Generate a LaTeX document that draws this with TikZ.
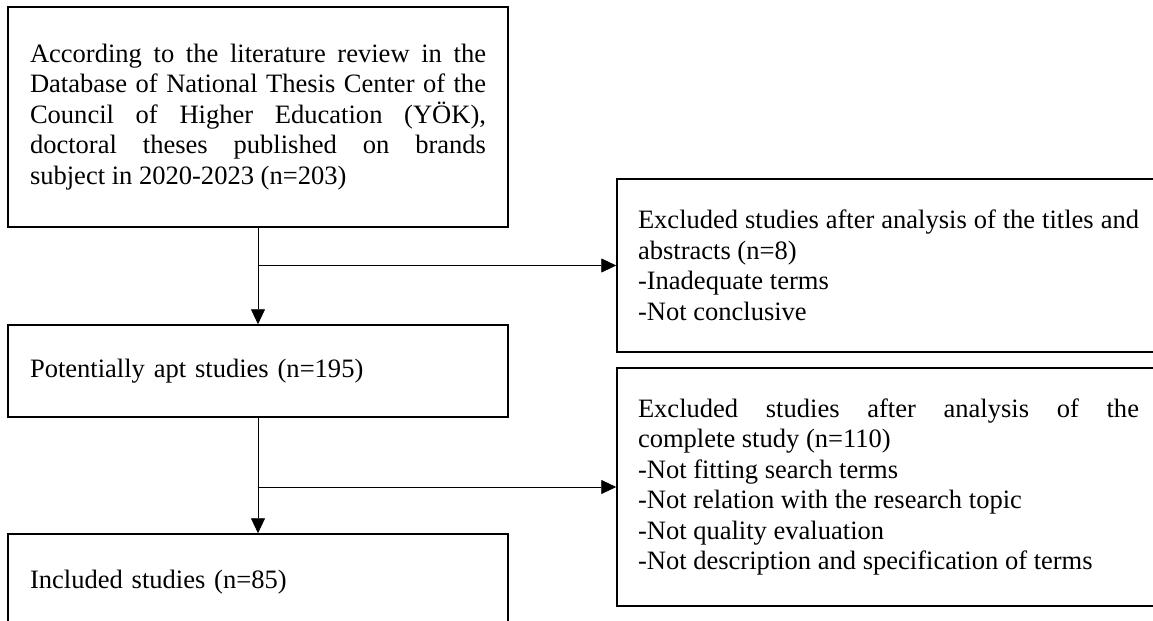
\documentclass[tikz,border=0pt]{standalone}
\usepackage{fontspec}
\setmainfont{Liberation Serif}
\usetikzlibrary{arrows.meta}
\newcommand{\flowfont}{\fontsize{15.1}{17.4}\selectfont
  \hyphenpenalty=10000 \exhyphenpenalty=10000 \tolerance=10000 \hbadness=10000 }
\tikzset{
  flowbox/.style={draw,line width=0.85pt,text width=9.12cm,inner xsep=0.44cm,inner ysep=0pt,
    font=\flowfont},
  exbox/.style={flowbox,text width=10.02cm,inner xsep=0.42cm},
  flowarrow/.style={line width=0.45pt,-{Triangle[length=0.3cm,width=0.28cm]}}
}

\begin{document}
\begin{tikzpicture}
    \useasboundingbox (0,0) rectangle (23.06,-12.42);
    \node[flowbox,align=justify,minimum height=4.4cm] (search) at (5.16,-2.34)
      {According to the literature review in the\linebreak
       Database of National Thesis Center of the\linebreak
       Council of Higher Education (YÖK),\linebreak
       doctoral theses published on brands\linebreak
       subject in 2020-2023 (n=203)};
    \node[flowbox,align=left,minimum height=1.84cm] (apt) at (5.16,-7.42)
      {Potentially apt studies (n=195)};
    \node[flowbox,align=left,minimum height=1.92cm] (incl) at (5.16,-11.64)
      {Included studies (n=85)};
    \node[exbox,align=justify,minimum height=3.46cm] (excl1) at (17.77,-5.31)
      {Excluded studies after analysis of the titles and\linebreak
       abstracts (n=8)\\
       -Inadequate terms\\
       -Not conclusive};
    \node[exbox,align=justify,minimum height=4.76cm] (excl2) at (17.77,-9.74)
      {Excluded studies after analysis of the\linebreak
       complete study (n=110)\\
       -Not fitting search terms\\
       -Not relation with the research topic\\
       -Not quality evaluation\\
       -Not description and specification of terms};
    \draw[flowarrow] (search) -- (apt);
    \draw[flowarrow] (apt) -- (incl);
    \draw[flowarrow] (search.south |- excl1.west) -- (excl1);
    \draw[flowarrow] (apt.south |- excl2.west) -- (excl2);
  \end{tikzpicture}
\end{document}
